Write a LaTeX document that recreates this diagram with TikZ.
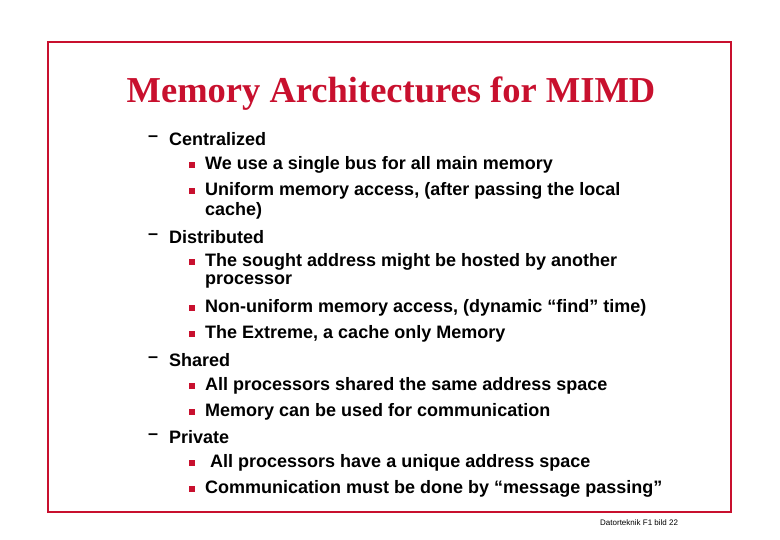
\documentclass[tikz,border=0pt]{standalone}
\usepackage{fontspec}
\setmainfont{Liberation Sans}
\newfontfamily\serif{Liberation Serif}
\definecolor{slidered}{HTML}{C8102E}
\begin{document}
\begin{tikzpicture}[x=1pt,y=-1pt,
  txt/.style={anchor=west,inner sep=0pt,font=\fontsize{18}{20}\selectfont\bfseries},
  bul/.style={fill=slidered,minimum size=6.5pt,inner sep=0pt}]
\useasboundingbox (0,0) rectangle (780,540);
\draw[slidered,line width=1.3pt] (48,42) rectangle (731,512);
\node[font=\serif\fontsize{36.5}{40}\selectfont\bfseries,text=slidered,inner sep=0pt] (title) at (391,94) {Memory Architectures for MIMD};
\foreach \y/\t [count=\i] in {139/Centralized,237/Distributed,360/Shared,437/Private}
  {\node[txt] (d\i) at (148,\y) {–}; \node[txt] (e\i) at (169,\y) {\t};}
\foreach \y/\t [count=\i] in {165/We use a single bus for all main memory,
  191/{Uniform memory access, (after passing the local},
  262/The sought address might be hosted by another,
  308/{Non-uniform memory access, (dynamic “find” time)},
  334/{The Extreme, a cache only Memory},
  386/All processors shared the same address space,
  412/Memory can be used for communication,
  463/\ All processors have a unique address space,
  489/Communication must be done by “message passing”}
  {\node[bul] (b\i) at (192,\y) {}; \node[txt] (t\i) at (205,\y) {\t};}
\node[txt] (w1) at (205,211) {cache)};
\node[txt] (w2) at (205,282) {processor};
\node[anchor=west,inner sep=0pt,font=\fontsize{8}{9}\selectfont] (foot) at (600,523) {Datorteknik F1 bild 22};
\end{tikzpicture}
\end{document}
